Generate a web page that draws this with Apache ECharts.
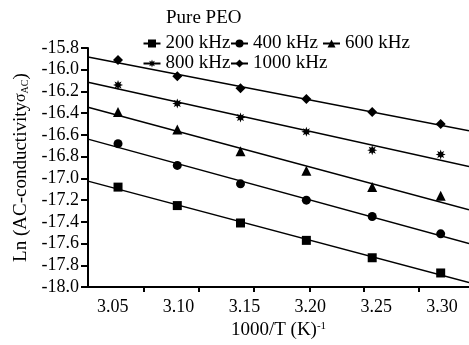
<!DOCTYPE html>
<html>
<head>
<meta charset="utf-8">
<script src="https://cdn.jsdelivr.net/npm/echarts@6/dist/echarts.min.js"></script>
<style>html,body{margin:0;padding:0;background:#fff}#c{width:469px;height:345px}</style>
</head>
<body>
<div id="c"></div>
<script>
// ---- data ----
const invT = [3.054, 3.099, 3.147, 3.197, 3.247, 3.299];
const s200 = [-17.08, -17.25, -17.41, -17.57, -17.73, -17.87];
const s400 = [-16.68, -16.88, -17.05, -17.20, -17.35, -17.51];
const s600 = [-16.39, -16.55, -16.75, -16.93, -17.08, -17.16];
const s800 = [-16.14, -16.31, -16.44, -16.57, -16.74, -16.78];
const s1000 = [-15.91, -16.06, -16.17, -16.27, -16.39, -16.50];
const seriesNames = ['200 kHz', '400 kHz', '600 kHz', '800 kHz', '1000 kHz'];
const xTickLabels = [3.05, 3.10, 3.15, 3.20, 3.25, 3.30];
const yTickLabels = [-18.0, -17.8, -17.6, -17.4, -17.2, -17.0, -16.8, -16.6, -16.4, -16.2, -16.0, -15.8];

// ---- style ----
const FONT = 'Liberation Serif';
const xMin = 3.0312, xMax = 3.3205;
// tick marks in the original sit on a 55px grid, not at the labels
const tickVals = [3.0732, 3.1150, 3.1568, 3.1993, 3.2408, 3.2826];

function starPath() {
  let d = '';
  for (let i = 0; i < 16; i++) {
    const a = i * Math.PI / 8 - Math.PI / 2;
    const r = (i % 2 === 0) ? 10 : 5;
    const x = (10 + r * Math.cos(a)).toFixed(2);
    const y = (10 + r * Math.sin(a)).toFixed(2);
    d += (i === 0 ? 'M' : 'L') + x + ' ' + y + ' ';
  }
  return 'path://' + d + 'Z';
}
const symbols = ['rect', 'circle', 'triangle', starPath(), 'diamond'];
const sizes = [9, 9, 10, 10, 10];
const allVals = [s200, s400, s600, s800, s1000];

function fit(xs, ys) {
  const n = xs.length;
  const mx = xs.reduce((a, b) => a + b, 0) / n;
  const my = ys.reduce((a, b) => a + b, 0) / n;
  let sxy = 0, sxx = 0;
  for (let i = 0; i < n; i++) { sxy += (xs[i] - mx) * (ys[i] - my); sxx += (xs[i] - mx) ** 2; }
  const b = sxy / sxx, a = my - b * mx;
  return [[xMin, a + b * xMin], [xMax, a + b * xMax]];
}

const series = [];
allVals.forEach((vals, k) => {
  series.push({
    name: seriesNames[k], type: 'line',
    data: invT.map((x, i) => [x, vals[i]]),
    symbol: symbols[k], symbolSize: sizes[k], showSymbol: true,
    itemStyle: { color: '#000' },
    lineStyle: { opacity: 0, width: 2, color: '#000' },
    z: 3
  });
  series.push({
    name: seriesNames[k] + ' fit', type: 'line',
    data: fit(invT, vals),
    symbol: 'none', lineStyle: { color: '#000', width: 1.5 },
    z: 2
  });
});

const legendPos = [[142.5, 34], [230, 34], [322, 34], [142.5, 54], [230, 54]];
const legends = seriesNames.map((nm, k) => ({
  data: [nm], left: legendPos[k][0], top: legendPos[k][1], padding: 0,
  itemWidth: 17, itemHeight: 10, selectedMode: false,
  textStyle: { fontFamily: FONT, fontSize: 19, color: '#000' },
  lineStyle: { color: '#000', width: 2, opacity: 1 },
  itemStyle: { color: '#000' }
}));

const chart = echarts.init(document.getElementById('c'));
chart.setOption({
  animation: false,
  backgroundColor: '#fff',
  title: { text: 'Pure PEO', left: 166, top: 9, padding: 0,
    textStyle: { fontFamily: FONT, fontSize: 19, fontWeight: 'normal', color: '#000' } },
  legend: legends,
  grid: { left: 88, right: 0, top: 48, bottom: 57 },
  xAxis: {
    type: 'value', min: xMin, max: xMax,
    name: '1000/T (K){sup|-1}', nameLocation: 'middle', nameGap: 29,
    nameTextStyle: { fontFamily: FONT, fontSize: 19, color: '#000',
      rich: { sup: { fontFamily: FONT, fontSize: 11, verticalAlign: 'top', color: '#000' } } },
    axisLine: { lineStyle: { color: '#000', width: 2 } },
    axisTick: { show: true, length: 5, lineStyle: { color: '#000', width: 2 }, customValues: tickVals },
    axisLabel: { customValues: xTickLabels, formatter: v => v.toFixed(2), margin: 11,
      fontFamily: FONT, fontSize: 18, color: '#000' },
    splitLine: { show: false }
  },
  yAxis: {
    type: 'value', min: -18, max: -15.8, interval: 0.2,
    name: 'Ln (AC-conductivity{sig|σ}{sub|AC})', nameLocation: 'middle', nameGap: 52,
    nameTextStyle: { fontFamily: FONT, fontSize: 19, color: '#000',
      rich: { sig: { fontFamily: FONT, fontSize: 16, color: '#000' },
              sub: { fontFamily: FONT, fontSize: 10, verticalAlign: 'bottom', color: '#000' } } },
    axisLine: { show: true, lineStyle: { color: '#000', width: 2 } },
    axisTick: { show: true, length: 7, lineStyle: { color: '#000', width: 2 } },
    axisLabel: { formatter: v => { const t = yTickLabels.find(u => Math.abs(u - v) < 1e-6); return (t !== undefined ? t : v).toFixed(1); },
      margin: 9, fontFamily: FONT, fontSize: 18, color: '#000' },
    splitLine: { show: false }
  },
  series: series
});
</script>
</body>
</html>
